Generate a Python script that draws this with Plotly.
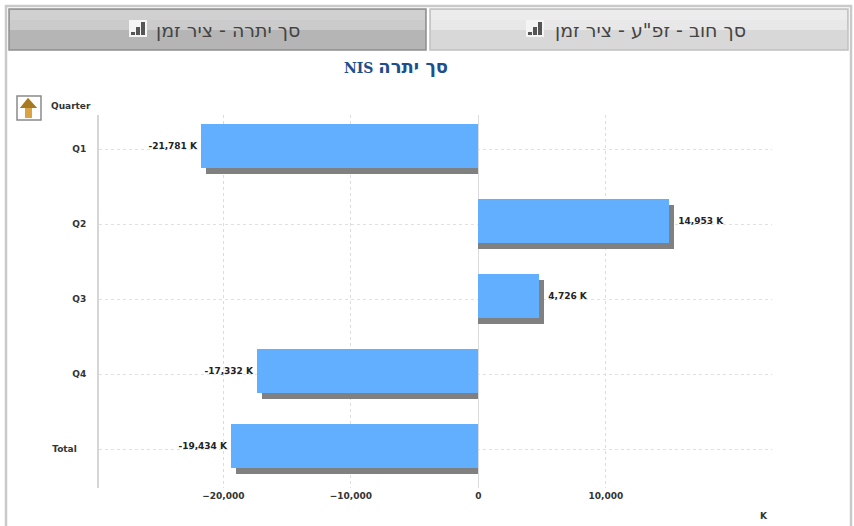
import plotly.graph_objects as go

quarters = ["Q1", "Q2", "Q3", "Q4", "Total"]
balances = [-21781, 14953, 4726, -17332, -19434]
x_ticks = [-20000, -10000, 0, 10000]

tab_left = "סך יתרה - ציר זמן"
tab_right = 'סך חוב - זפ"ע - ציר זמן'
title_he = "סך יתרה"
title_cur = "NIS"

# plot area in page pixels
L, R, T, B = 99, 772, 115, 488
W, H = 854, 526
px_per_unit = 12.75 / 1000
zero_px = 478.3
bar_w = 44 / 75
shift = 3 / 75
shadow_dx = 5 / px_per_unit


def px(x):
    return (x - L) / (R - L)


def py(y):
    return (B - y) / (B - T)


def rect(x0, y0, x1, y1, fill, line=None, width=1):
    return dict(type="rect", xref="paper", yref="paper", x0=px(x0), x1=px(x1), y0=py(y0), y1=py(y1),
                fillcolor=fill, line=dict(color=line or fill, width=width if line else 0), layer="below")


def poly(points, fill):
    path = "M " + " L ".join(f"{px(x)} {py(y)}" for x, y in points) + " Z"
    return dict(type="path", xref="paper", yref="paper", path=path, fillcolor=fill, line=dict(width=0), layer="above")


def tab(x0, x1, top1, top2, low, border):
    return [
        rect(x0, 9, x1, 50, low, border, 1.5),
        rect(x0 + 1, 10, x1 - 1, 20, top1),
        rect(x0 + 1, 20, x1 - 1, 30, top2),
    ]


def bars_icon(x0):
    items = [rect(x0, 20, x0 + 18, 37, "#f4f4f4")]
    for dx, top in [(2, 32), (7, 27), (12, 22)]:
        s = rect(x0 + dx, top, x0 + dx + 4, 35, "#555555")
        s["layer"] = "above"
        items[0]["layer"] = "above"
        items.append(s)
    return items


shapes = [
    # outer panel
    rect(6, 6, 851, 540, "#ffffff", "#c9c9c9", 2.5),
]
shapes += tab(9, 426, "#d0d0d0", "#cbcbcb", "#b5b5b5", "#8f8f8f")
shapes += tab(430, 848, "#ececec", "#e8e8e8", "#d8d8d8", "#c0c0c0")
shapes += bars_icon(129) + bars_icon(526)
shapes += [
    # up button
    rect(17, 96, 41, 120, "#ffffff", "#8a8a8a", 1.5),
    poly([(28, 98), (37, 108), (32, 108), (32, 118), (25, 118), (25, 108), (20, 108)], "#d9a441"),
    poly([(28, 98), (37, 108), (20, 108)], "#a67a20"),
]

fig = go.Figure()
# shadow first so the blue bar sits on top
fig.add_trace(go.Bar(
    y=quarters, x=[v + shadow_dx for v in balances], orientation="h",
    width=bar_w, offset=-bar_w / 2 + shift, marker=dict(color="#808080", line=dict(width=0)),
    hoverinfo="skip", showlegend=False,
))
fig.add_trace(go.Bar(
    y=quarters, x=balances, orientation="h",
    width=bar_w, offset=-bar_w / 2 - shift, marker=dict(color="#62aeff", line=dict(width=0)),
    text=[f"{v:,} K" if v < 0 else f"\u00a0\u00a0{v:,} K" for v in balances],
    textposition="outside", cliponaxis=False,
    textfont=dict(family="DejaVu Sans", size=9, color="#222222", weight=700),
    showlegend=False,
))

label_font = dict(family="DejaVu Sans", size=9, color="#333333", weight=700)
ann = [
    dict(x=px(228), y=py(30), text=tab_left, font=dict(family="DejaVu Sans", size=19, color="#444444")),
    dict(x=px(650), y=py(30), text=tab_right, font=dict(family="DejaVu Sans", size=19, color="#444444")),
    # NIS first: the line runs left to right, so it lands left of the Hebrew as in the picture
    dict(x=px(396), y=py(67),
         text=f'{title_cur} <span style="font-family:DejaVu Sans;font-size:18px">{title_he}</span>',
         font=dict(family="DejaVu Serif", size=14, color="#1f4e8c", weight=700)),
    dict(x=px(71), y=py(106), text="Quarter", font=label_font),
    dict(x=px(764), y=py(516), text="K", font=label_font),
]
for a in ann:
    a.update(xref="paper", yref="paper", showarrow=False, xanchor="center", yanchor="middle")

fig.update_layout(
    width=W, height=H, autosize=False,
    margin=dict(l=L, r=W - R, t=T, b=H - B, pad=0),
    paper_bgcolor="#ffffff", plot_bgcolor="rgba(0,0,0,0)",
    barmode="overlay", bargap=0,
    shapes=shapes, annotations=ann,
    xaxis=dict(
        range=[(L - zero_px) / px_per_unit, (R - zero_px) / px_per_unit],
        tickvals=x_ticks, tickformat=",d", ticks="", showline=False,
        showgrid=True, gridcolor="#dcdcdc", griddash="dot", gridwidth=1,
        zeroline=True, zerolinecolor="#dcdcdc", zerolinewidth=1,
        tickfont=label_font, ticklabelstandoff=1, layer="below traces",
    ),
    yaxis=dict(
        type="category", categoryorder="array", categoryarray=quarters,
        range=[(B - 149) / 75, (T - 149) / 75],
        showline=True, linecolor="#d6d6d6", linewidth=2,
        showgrid=True, gridcolor="#e0e0e0", griddash="dot", gridwidth=1,
        ticks="", ticklabelstandoff=9,
        tickmode="array", tickvals=quarters,
        ticktext=["Q1", "Q2", "Q3", "Q4", "Total\u00a0\u00a0\u00a0"],
        tickfont=label_font, layer="below traces",
    ),
)

fig.write_html("out.html", config=dict(displayModeBar=False),
               post_script="document.body.style.margin='0';document.body.style.overflow='hidden';")
